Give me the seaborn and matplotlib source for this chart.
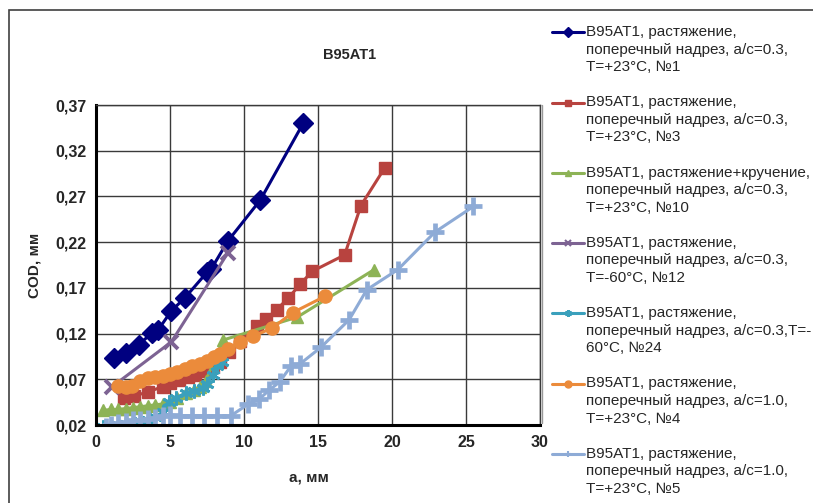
import matplotlib
matplotlib.use("Agg")
import numpy as np
import matplotlib.pyplot as plt
from matplotlib.lines import Line2D
from matplotlib.patches import Rectangle
from matplotlib.legend_handler import HandlerLine2D
import seaborn as sns

# --- data (a, mm -> COD, mm) ---
a_1 = [1.2, 2.0, 2.9, 3.8, 4.2, 5.1, 6.0, 7.5, 7.8, 8.9, 11.1, 14.0]
cod_1 = [0.093, 0.099, 0.108, 0.121, 0.124, 0.145, 0.159, 0.187, 0.191, 0.221, 0.266, 0.350]

a_3 = [1.9, 2.6, 3.5, 4.5, 5.0, 5.6, 6.2, 6.7, 7.3, 7.9, 8.4, 9.0, 9.7, 10.9, 11.5, 12.2,
       13.0, 13.8, 14.6, 16.8, 17.9, 19.5]
cod_3 = [0.049, 0.052, 0.056, 0.062, 0.066, 0.069, 0.072, 0.075, 0.079, 0.083, 0.089, 0.100,
         0.112, 0.128, 0.136, 0.146, 0.159, 0.174, 0.188, 0.206, 0.260, 0.301]

a_10 = [0.5, 1.0, 1.5, 2.0, 2.5, 3.0, 3.5, 4.0, 4.5, 5.0, 5.5, 6.1, 6.6, 7.0, 7.4, 8.6, 13.6, 18.8]
cod_10 = [0.036, 0.037, 0.037, 0.038, 0.039, 0.040, 0.041, 0.042, 0.043, 0.045, 0.050, 0.055,
          0.058, 0.062, 0.068, 0.113, 0.138, 0.190]

a_12 = [1.1, 5.1, 8.9]
cod_12 = [0.062, 0.111, 0.208]

a_24 = [0.5, 1.0, 1.5, 2.0, 2.5, 3.0, 3.5, 4.0, 4.5, 4.9, 5.4, 6.1, 6.6, 7.2, 7.5, 7.9, 8.2, 8.5]
cod_24 = [0.018, 0.019, 0.020, 0.021, 0.022, 0.024, 0.026, 0.029, 0.034, 0.045, 0.050, 0.055,
          0.057, 0.060, 0.065, 0.075, 0.084, 0.089]

a_4 = [1.5, 2.0, 2.4, 3.0, 3.5, 4.0, 4.5, 5.0, 5.5, 6.0, 6.5, 7.0, 7.5, 8.0, 8.4, 8.9, 9.7,
       10.6, 11.9, 13.3, 15.5]
cod_4 = [0.063, 0.062, 0.063, 0.068, 0.071, 0.073, 0.074, 0.076, 0.078, 0.081, 0.084, 0.087,
         0.090, 0.094, 0.098, 0.103, 0.111, 0.117, 0.126, 0.143, 0.161]

a_5 = [0.7, 1.0, 1.5, 2.0, 2.5, 3.0, 3.5, 4.0, 4.5, 5.0, 5.7, 6.5, 7.3, 8.2, 9.1, 10.3, 11.0,
       11.7, 12.4, 13.2, 13.8, 15.2, 17.1, 18.3, 20.4, 22.9, 25.5]
cod_5 = [0.018, 0.020, 0.022, 0.023, 0.025, 0.026, 0.027, 0.028, 0.030, 0.031, 0.030, 0.030,
         0.030, 0.030, 0.030, 0.043, 0.048, 0.058, 0.067, 0.085, 0.087, 0.105, 0.135, 0.168,
         0.190, 0.231, 0.259]

labels = [
    "B95AT1, растяжение,\nпоперечный надрез, а/с=0.3,\nT=+23°C, №1",
    "B95AT1, растяжение,\nпоперечный надрез, а/с=0.3,\nT=+23°C, №3",
    "B95AT1, растяжение+кручение,\nпоперечный надрез, а/с=0.3,\nT=+23°C, №10",
    "B95AT1, растяжение,\nпоперечный надрез, а/с=0.3,\nT=-60°C, №12",
    "B95AT1, растяжение,\nпоперечный надрез, а/с=0.3,T=-\n60°C, №24",
    "B95AT1, растяжение,\nпоперечный надрез, а/с=1.0,\nT=+23°C, №4",
    "B95AT1, растяжение,\nпоперечный надрез, а/с=1.0,\nT=+23°C, №5",
]

x_ticks = [0, 5, 10, 15, 20, 25, 30]
y_ticks = [0.02, 0.07, 0.12, 0.17, 0.22, 0.27, 0.32, 0.37]
y_tick_labels = ["0,02", "0,07", "0,12", "0,17", "0,22", "0,27", "0,32", "0,37"]

series = [(a_1, cod_1), (a_3, cod_3), (a_10, cod_10), (a_12, cod_12),
          (a_24, cod_24), (a_4, cod_4), (a_5, cod_5)]

# style per series: colour, marker, marker size, marker edge width
colors = ["#000080", "#B8433F", "#8DB356", "#7D6393", "#3AA0BC", "#EB8B3B", "#8EABD6"]
markers = ["D", "s", "^", "x", (6, 2, 0), "o", "+"]
msizes = [10, 9, 9, 10, 10, 9.5, 13]
mews = [1, 1, 1, 2.8, 2.0, 1, 3.4]


class TopLineHandler(HandlerLine2D):
    """legend handle sitting on the first line of a multi-line label"""
    def __init__(self, shift, **kw):
        super().__init__(**kw)
        self.shift = shift

    def create_artists(self, legend, orig_handle, xdescent, ydescent, width, height,
                       fontsize, trans):
        arts = super().create_artists(legend, orig_handle, xdescent, ydescent, width,
                                      height, fontsize, trans)
        for a in arts:
            a.set_ydata(np.asarray(a.get_ydata()) + self.shift)
        return arts


sns.set_theme(style="white")
plt.rcParams["font.family"] = ["Liberation Sans", "DejaVu Sans"]

fig = plt.figure(figsize=(8.13, 5.03), dpi=100)
ax = fig.add_axes([96 / 813, 1 - 425 / 503, 444 / 813, 320 / 503])

for (xs, ys), c, m, ms, mw in zip(series, colors, markers, msizes, mews):
    sns.lineplot(x=xs, y=ys, ax=ax, color=c, marker=m, markersize=ms,
                 markeredgecolor=c, markerfacecolor=c, markeredgewidth=mw,
                 linewidth=2.2, estimator=None, sort=False, legend=False)

ax.set_xlim(0, 30)
ax.set_ylim(0.02, 0.37)
ax.set_xticks(x_ticks)
ax.set_yticks(y_ticks)
ax.set_yticklabels(y_tick_labels)
ax.grid(True, color="#3a3a3a", linewidth=1.0)
ax.set_axisbelow(True)

for side in ["top", "right"]:
    ax.spines[side].set_color("#3a3a3a")
    ax.spines[side].set_linewidth(1.0)
for side in ["left", "bottom"]:
    ax.spines[side].set_color("black")
    ax.spines[side].set_linewidth(2.2)

ax.tick_params(axis="both", direction="inout", length=6, width=2, color="black",
               labelsize=11.5, pad=4)
for t in ax.get_xticklabels() + ax.get_yticklabels():
    t.set_fontweight("bold")

ax.set_title("B95AT1", fontsize=10.5, fontweight="bold", pad=33, x=(350 - 96) / 444)
ax.set_xlabel("а, мм", fontsize=11, fontweight="bold", labelpad=15)
ax.xaxis.label.set_x((309 - 96) / 444)
ax.set_ylabel("COD, мм", fontsize=11, fontweight="bold", labelpad=10)

# legend with small markers, outside on the right
handles = []
for c, m, mw in zip(colors, markers, mews):
    handles.append(Line2D([0], [0], color=c, linewidth=2.2, marker=m, markersize=5,
                          markeredgecolor=c, markerfacecolor=c,
                          markeredgewidth=min(mw, 1.5)))
leg = fig.legend(handles, labels, loc="upper left", bbox_to_anchor=(546 / 813, 1 - 19 / 503),
                 frameon=False, fontsize=11, handlelength=2.1, handletextpad=0.15,
                 labelspacing=1.39, borderaxespad=0,
                 handler_map={Line2D: TopLineHandler(shift=12.6)})
for t in leg.get_texts():
    t.set_linespacing(1.32)

# chart frame and legend edge
fig.add_artist(Rectangle((9 / 813, -0.1), 1.2, 1.1 - 10 / 503, transform=fig.transFigure,
                         fill=False, edgecolor="#404040", linewidth=1.2))
fig.add_artist(Line2D([542 / 813, 542 / 813], [1 - 105 / 503, 1 - 423 / 503],
                      transform=fig.transFigure, color="#999999", linewidth=1.0))

fig.savefig("out.png", dpi=100)
